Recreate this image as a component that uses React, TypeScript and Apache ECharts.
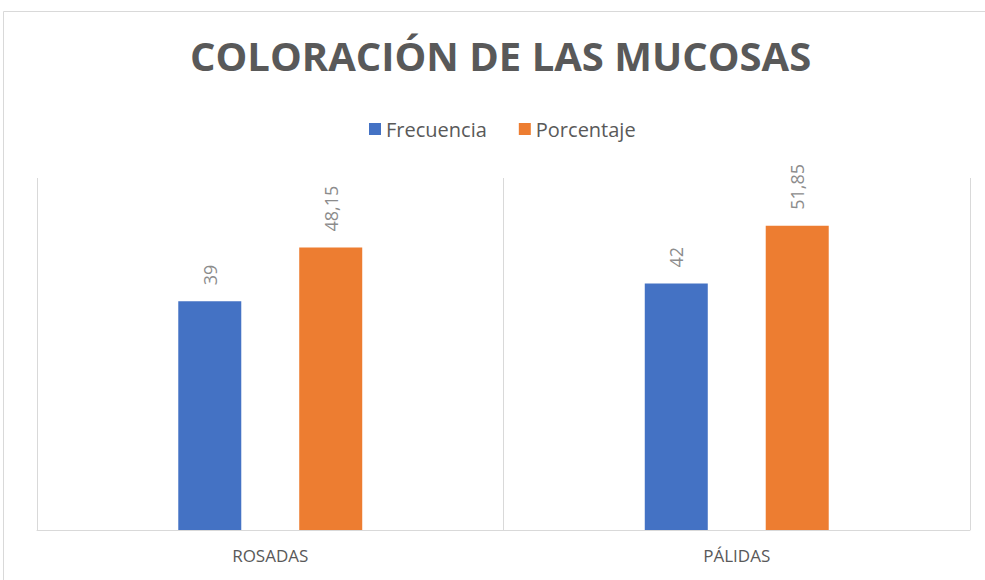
import React, { useEffect, useRef } from "react";
import * as echarts from "echarts";

const categories = ["ROSADAS", "PÁLIDAS"];
const frecuencia = [39, 42];
const porcentaje = [48.15, 51.85];
const seriesNames = ["Frecuencia", "Porcentaje"];

const fmt = (v: number) => String(v).replace(".", ",");

export default function App() {
  const ref = useRef<HTMLDivElement>(null);
  useEffect(() => {
    if (!ref.current) return;
    const chart = echarts.init(ref.current, undefined, { renderer: "svg" });
    const labelCfg = {
      show: true,
      position: "top" as const,
      rotate: 90,
      align: "left" as const,
      verticalAlign: "middle" as const,
      distance: 16,
      color: "#8c8c8c",
      fontSize: 18,
      fontFamily: "Open Sans",
      formatter: (p: any) => fmt(p.value),
    };
    chart.setOption({
      animation: false,
      backgroundColor: "#ffffff",
      title: {
        text: "COLORACIÓN DE LAS MUCOSAS",
        left: 190,
        top: 35,
        padding: 0,
        textStyle: {
          fontFamily: "Open Sans",
          fontWeight: "bold",
          fontSize: 40,
          color: "#595959",
        },
      },
      legend: {
        data: seriesNames,
        top: 114,
        left: 364,
        itemWidth: 12,
        itemHeight: 12,
        itemGap: 32,
        icon: "rect",
        textStyle: { fontFamily: "Open Sans", fontSize: 20, color: "#595959" },
      },
      grid: { left: 37, right: 15, top: 178, bottom: 50 },
      xAxis: {
        type: "category",
        data: categories,
        axisLine: { show: true, lineStyle: { color: "#d9d9d9", width: 1 } },
        axisTick: { show: false },
        splitLine: { show: true, lineStyle: { color: "#d9d9d9", width: 1 } },
        axisLabel: {
          color: "#595959",
          fontFamily: "Open Sans",
          fontSize: 17,
          margin: 17,
        },
      },
      yAxis: {
        type: "value",
        min: 0,
        max: 60,
        show: false,
        splitLine: { show: false },
      },
      series: [
        {
          name: seriesNames[0],
          type: "bar",
          data: frecuencia,
          barWidth: 63,
          barGap: "92%",
          itemStyle: { color: "#4472c4" },
          label: labelCfg,
        },
        {
          name: seriesNames[1],
          type: "bar",
          data: porcentaje,
          barWidth: 63,
          barGap: "92%",
          itemStyle: { color: "#ed7d31" },
          label: labelCfg,
        },
      ],
      graphic: [
        {
          type: "rect",
          shape: { x: 3.5, y: 11.5, width: 1000, height: 600 },
          style: { fill: "none", stroke: "#d9d9d9", lineWidth: 1 },
          silent: true,
        },
      ],
    });
    return () => chart.dispose();
  }, []);
  return (
    <div
      ref={ref}
      style={{ position: "absolute", left: 0, top: 0, width: 985, height: 580 }}
    />
  );
}
